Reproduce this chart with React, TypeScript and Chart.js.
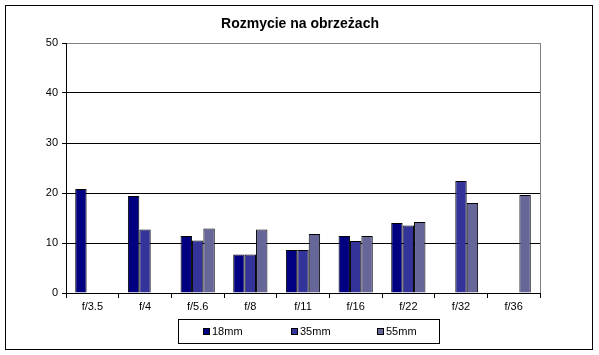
import React, { useEffect, useRef } from "react";
import { Chart, registerables } from "chart.js";

Chart.register(...registerables);

const title = "Rozmycie na obrzeżach";
const categories = ["f/3.5", "f/4", "f/5.6", "f/8", "f/11", "f/16", "f/22", "f/32", "f/36"];
const seriesNames = ["18mm", "35mm", "55mm"];
const s18: (number | null)[] = [20.8, 19.4, 11.4, 7.7, 8.6, 11.4, 14.0, null, null];
const s35: (number | null)[] = [null, 12.7, 10.5, 7.7, 8.6, 10.4, 13.5, 22.4, null];
const s55: (number | null)[] = [null, null, 12.9, 12.7, 11.8, 11.4, 14.2, 18.0, 19.6];
const yTicks = [0, 10, 20, 30, 40, 50];
const colors = ["#000080", "#333399", "#666699"];

const FONT = "'Liberation Sans', Arial, sans-serif";

export default function App() {
  const ref = useRef<HTMLCanvasElement | null>(null);

  useEffect(() => {
    if (!ref.current) return;
    const decor = {
      id: "decor",
      afterDraw(chart: any) {
        const ctx = chart.ctx;
        const a = chart.chartArea;
        ctx.save();
        // right plot border
        ctx.strokeStyle = "#808080";
        ctx.lineWidth = 1;
        ctx.beginPath();
        ctx.moveTo(Math.round(a.right) + 0.5, a.top);
        ctx.lineTo(Math.round(a.right) + 0.5, a.bottom);
        ctx.stroke();
        // outer border
        ctx.strokeStyle = "#000";
        ctx.strokeRect(5.5, 5.5, 587, 344);
        // title
        ctx.fillStyle = "#000";
        ctx.font = `bold 14px ${FONT}`;
        ctx.textAlign = "center";
        ctx.textBaseline = "middle";
        ctx.fillText(title, 300, 24);
        // legend
        ctx.strokeRect(178.5, 319.5, 261, 24);
        ctx.font = `11px ${FONT}`;
        ctx.textAlign = "left";
        const xs = [203, 291, 377];
        chart.data.datasets.forEach((ds: any, i: number) => {
          const x = xs[i];
          ctx.fillStyle = ds.backgroundColor;
          ctx.fillRect(x, 328, 7, 7);
          ctx.strokeStyle = "#000";
          ctx.strokeRect(x + 0.5, 328.5, 6, 6);
          ctx.fillStyle = "#000";
          ctx.fillText(ds.label, x + 9, 332);
        });
        ctx.restore();
      },
    };

    const chart = new Chart(ref.current, {
      type: "bar",
      data: {
        labels: categories,
        datasets: [s18, s35, s55].map((d, i) => ({
          label: seriesNames[i],
          data: d,
          backgroundColor: colors[i],
          borderColor: "#000",
          borderWidth: 1,
          categoryPercentage: 0.65,
          barPercentage: 1,
        })),
      },
      options: {
        responsive: false,
        animation: false,
        layout: { padding: { top: 43, left: 0, right: 59, bottom: 40 } },
        plugins: {
          legend: { display: false },
          title: { display: false },
          tooltip: { enabled: false },
        },
        scales: {
          x: {
            grid: {
              offset: true,
              drawOnChartArea: false,
              drawTicks: true,
              tickLength: 5,
              color: "#000",
            },
            border: { color: "#000" },
            ticks: { color: "#000", font: { family: FONT, size: 11 }, padding: 2, maxRotation: 0 },
            afterFit: (s: any) => {
              s.height = 22;
            },
          },
          y: {
            min: 0,
            max: 50,
            afterBuildTicks: (s: any) => {
              s.ticks = yTicks.map((v) => ({ value: v }));
            },
            grid: {
              color: (c: any) => (c.tick && c.tick.value === 50 ? "#808080" : "#000"),
              tickColor: "#000",
              tickLength: 4,
            },
            border: { color: "#000" },
            ticks: { color: "#000", font: { family: FONT, size: 11 }, padding: 4 },
            afterFit: (s: any) => {
              s.width = 66;
            },
          },
        },
      },
      plugins: [decor],
    });
    return () => chart.destroy();
  }, []);

  return (
    <div style={{ position: "fixed", left: 0, top: 0, width: 599, height: 355, background: "#fff" }}>
      <canvas ref={ref} width={599} height={355} style={{ display: "block" }} />
    </div>
  );
}
